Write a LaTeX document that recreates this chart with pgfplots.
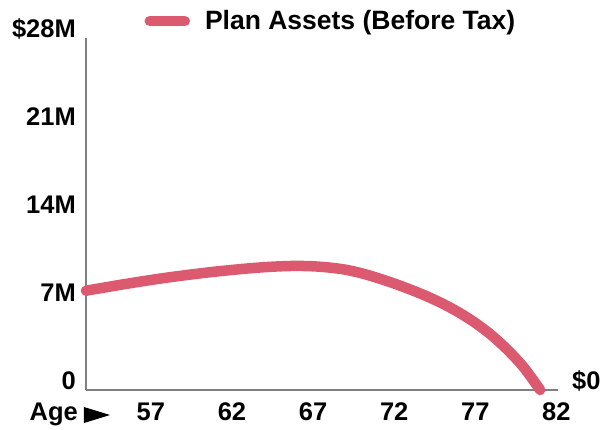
\documentclass[border=0pt]{standalone}
\usepackage{pgfplots}
\pgfplotsset{compat=1.18}
\usepackage{fontspec}
\setmainfont{Liberation Sans}
\definecolor{planred}{RGB}{220,90,112}
\definecolor{axisgray}{RGB}{128,128,128}

\begin{document}
\begin{tikzpicture}
% page = 602 x 430 bp, axis box corner at pixel (86,390)
\path[use as bounding box] (-86bp,-40bp) rectangle (516bp,390bp);
\begin{axis}[
    at={(0,0)}, anchor=south west,
    scale only axis, width=472bp, height=352bp,
    xmin=53, xmax=82.1,
    ymin=0, ymax=28,
    axis x line*=bottom, axis y line*=left,
    axis line style={-, axisgray, line width=1.3bp},
    clip=false,
    major tick length=0pt,
    tick label style={font=\fontsize{25.5bp}{30bp}\selectfont\bfseries},
    xtick={57,62,67,72,77,82},
    xticklabels={57,62,67,72,77,82},
    ytick={0,7,14,21,28},
    yticklabels={0,7M,14M,21M,\$28M},
    xticklabel style={anchor=base, inner sep=0pt, yshift=-31bp},
    yticklabel style={anchor=base east, inner sep=0pt, xshift=-10bp},
    legend style={draw=none, fill=none, inner sep=0pt, outer sep=0pt,
        nodes={inner sep=0pt},
        font=\fontsize{26.5bp}{31bp}\selectfont\bfseries,
        at={(axis description cs:0.124,1.048)}, anchor=west},
    /tikz/every odd column/.append style={column sep=15bp},
    legend image code/.code={
        \draw[#1, line cap=round] (5bp,0bp) -- (30bp,0bp);
        \path (0bp,0bp) -- (35bp,0bp);
    },
]
\addplot[planred, line width=10.5bp, line cap=round, line join=round, smooth] coordinates {
    (53,7.90)
    (54,8.12)
    (55,8.34)
    (56,8.55)
    (57,8.75)
    (58,8.94)
    (59,9.11)
    (60,9.27)
    (61,9.42)
    (62,9.55)
    (63,9.67)
    (64,9.77)
    (65,9.84)
    (66,9.87)
    (67,9.84)
    (68,9.74)
    (69,9.57)
    (70,9.28)
    (71,8.90)
    (72,8.47)
    (73,7.99)
    (74,7.46)
    (75,6.86)
    (76,6.16)
    (77,5.34)
    (78,4.36)
    (79,3.18)
    (80,1.78)
    (81,0.00)
};
\addlegendentry{Plan Assets (Before Tax)}

\node[anchor=base west, inner sep=0pt,
      font=\fontsize{25.5bp}{30bp}\selectfont\bfseries]
    at (axis cs:82.1,0) [xshift=14bp] {\$0};
\node[anchor=base east, inner sep=0pt,
      font=\fontsize{25.5bp}{30bp}\selectfont\bfseries]
    at (axis cs:53,0) [xshift=-8bp, yshift=-31bp] {Age};
\end{axis}
\fill (-2bp,-17bp) -- (24bp,-25bp) -- (-2bp,-33bp) -- cycle;
\end{tikzpicture}
\end{document}
